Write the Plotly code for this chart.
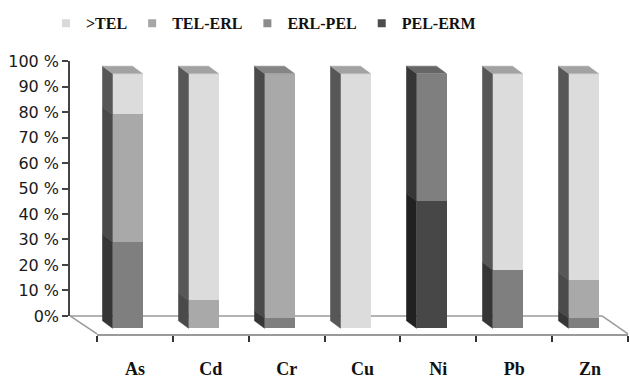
import plotly.graph_objects as go

# ---- data -------------------------------------------------------------
categories = ["As", "Cd", "Cr", "Cu", "Ni", "Pb", "Zn"]
series_names = [">TEL", "TEL-ERL", "ERL-PEL", "PEL-ERM"]
above_tel = [16, 89, 0, 100, 0, 77, 81]
tel_erl = [50, 11, 96, 0, 0, 0, 15]
erl_pel = [34, 0, 4, 0, 50, 23, 4]
pel_erm = [0, 0, 0, 0, 50, 0, 0]
y_tick_vals = [0, 10, 20, 30, 40, 50, 60, 70, 80, 90, 100]
y_tick_text = ["0%", "10 %", "20 %", "30 %", "40 %", "50 %",
               "60 %", "70 %", "80 %", "90 %", "100 %"]

# ---- styling ----------------------------------------------------------
W, H = 630, 381
SERIF = "Liberation Serif, Times New Roman, DejaVu Serif, serif"
front_col = {">TEL": "#dcdcdc", "TEL-ERL": "#a9a9a9",
             "ERL-PEL": "#7f7f7f", "PEL-ERM": "#474747"}
side_col = {">TEL": "#575757", "TEL-ERL": "#4a4a4a",
            "ERL-PEL": "#363636", "PEL-ERM": "#212121"}
cap_col = {">TEL": "#a2a2a2", "TEL-ERL": "#858585",
           "ERL-PEL": "#666666", "PEL-ERM": "#333333"}
legend_col = {">TEL": "#d9d9d9", "TEL-ERL": "#a6a6a6",
              "ERL-PEL": "#8c8c8c", "PEL-ERM": "#4d4d4d"}

# pixel geometry of the pseudo-3D scene
SLOT = 76.0            # px per category
X0 = 127.5             # px centre of first bar front face
PX_PER_PCT = 2.68      # px per percent
FRONT_ZERO = 336.0     # px of 0 % on bar front faces
WALL_ZERO = 323.0      # px of 0 % on the back wall axis
WALL_TOP = WALL_ZERO - 100 * PX_PER_PCT
WALL_X = 70.0
FLOOR_FRONT_Y = 342.0
FLOOR_FRONT_X0 = 97.0
FLOOR_FRONT_X1 = 628.0
FLOOR_BACK_X1 = 602.0
BAR_W = 30.0 / SLOT    # bar width in category units
DX = -10.0 / SLOT      # depth offset (category units)
DV = 7.8 / PX_PER_PCT  # depth offset (percent units)

x_rng = [-X0 / SLOT, (W - X0) / SLOT]
y_rng = [(FRONT_ZERO - H) / PX_PER_PCT, FRONT_ZERO / PX_PER_PCT]

stack = [("PEL-ERM", pel_erm), ("ERL-PEL", erl_pel),
         ("TEL-ERL", tel_erl), (">TEL", above_tel)]
xs = list(range(len(categories)))

fig = go.Figure()

# front faces of the stacked columns
for name, vals in stack:
    fig.add_trace(go.Bar(
        x=xs, y=vals, width=BAR_W, name=name, showlegend=False,
        marker=dict(color=front_col[name], line=dict(width=0)),
        hoverinfo="skip"))

# left side faces, one polygon per segment
base = [0.0] * len(categories)
top_series = [None] * len(categories)
for name, vals in stack:
    px, py = [], []
    for i, v in enumerate(vals):
        if v <= 0:
            continue
        b, t = base[i], base[i] + v
        xl = i - BAR_W / 2
        px += [xl, xl, xl + DX, xl + DX, xl, None]
        py += [b, t, t + DV, b + DV, b, None]
        base[i] = t
        top_series[i] = name
    if px:
        fig.add_trace(go.Scatter(
            x=px, y=py, mode="lines", fill="toself",
            fillcolor=side_col[name],
            line=dict(color=side_col[name], width=0.6),
            showlegend=False, hoverinfo="skip"))

# top caps, coloured like the uppermost segment
for name in series_names:
    px, py = [], []
    for i, s in enumerate(top_series):
        if s != name:
            continue
        t = base[i]
        xl, xr = i - BAR_W / 2, i + BAR_W / 2
        px += [xl, xr, xr + DX, xl + DX, xl, None]
        py += [t, t, t + DV, t + DV, t, None]
    if px:
        fig.add_trace(go.Scatter(
            x=px, y=py, mode="lines", fill="toself",
            fillcolor=cap_col[name],
            line=dict(color=cap_col[name], width=0.6),
            showlegend=False, hoverinfo="skip"))

# legend entries
for name in series_names:
    fig.add_trace(go.Scatter(
        x=[None], y=[None], mode="markers", name="<b>%s</b>" % name,
        marker=dict(symbol="square", size=8, color=legend_col[name])))

# helper trace for the wall axis
fig.add_trace(go.Scatter(x=[0], y=[0], xaxis="x2", yaxis="y2",
                         mode="markers", marker=dict(opacity=0),
                         showlegend=False, hoverinfo="skip"))
# helper trace for the category axis along the floor front edge
fig.add_trace(go.Scatter(x=categories, y=[0] * len(categories),
                         xaxis="x3", yaxis="y3", mode="markers",
                         marker=dict(opacity=0), showlegend=False,
                         hoverinfo="skip"))


def pxp(x):
    return x / W


def pyp(y):
    return 1 - y / H


# floor outline (behind the columns)
floor_col = "#9a9a9a"
shapes = [
    dict(type="line", xref="paper", yref="paper", layer="below",
         x0=pxp(WALL_X), y0=pyp(WALL_ZERO),
         x1=pxp(FLOOR_BACK_X1), y1=pyp(WALL_ZERO),
         line=dict(color=floor_col, width=1.5)),
    dict(type="line", xref="paper", yref="paper", layer="below",
         x0=pxp(WALL_X), y0=pyp(WALL_ZERO),
         x1=pxp(FLOOR_FRONT_X0), y1=pyp(FLOOR_FRONT_Y),
         line=dict(color=floor_col, width=1.5)),
    dict(type="line", xref="paper", yref="paper", layer="below",
         x0=pxp(FLOOR_BACK_X1), y0=pyp(WALL_ZERO),
         x1=pxp(FLOOR_FRONT_X1), y1=pyp(FLOOR_FRONT_Y),
         line=dict(color=floor_col, width=1.5)),
]

fig.update_layout(
    width=W, height=H,
    margin=dict(l=0, r=0, t=0, b=0),
    paper_bgcolor="white", plot_bgcolor="rgba(0,0,0,0)",
    barmode="stack", bargap=0,
    showlegend=True,
    shapes=shapes,
    legend=dict(orientation="h", traceorder="normal",
                x=46 / W, xanchor="left",
                y=pyp(15), yanchor="middle",
                font=dict(family=SERIF, size=16, color="#111111"),
                itemwidth=30, bgcolor="rgba(0,0,0,0)"),
    xaxis=dict(domain=[0, 1], range=x_rng, visible=False,
               fixedrange=True),
    yaxis=dict(domain=[0, 1], range=y_rng, visible=False,
               fixedrange=True),
    xaxis2=dict(domain=[WALL_X / W, 1], anchor="y2", visible=False,
                range=[0, 1], fixedrange=True),
    yaxis2=dict(domain=[pyp(WALL_ZERO), pyp(WALL_TOP)], anchor="x2",
                range=[0, 100], tickvals=y_tick_vals,
                ticktext=y_tick_text, showline=True, linecolor="#444444",
                linewidth=1.5, ticks="outside", ticklen=6,
                tickcolor="#444444", tickwidth=1.5, showgrid=False,
                zeroline=False, fixedrange=True,
                tickfont=dict(family="DejaVu Sans", size=16,
                              color="#1a1a1a")),
    xaxis3=dict(domain=[FLOOR_FRONT_X0 / W, FLOOR_FRONT_X1 / W],
                anchor="y3", type="category",
                categoryorder="array", categoryarray=categories,
                range=[-0.5, len(categories) - 0.5],
                tickson="boundaries", ticks="outside", ticklen=6,
                tickcolor="#333333", tickwidth=1.5,
                showline=True, linecolor=floor_col, linewidth=1.5,
                showgrid=False, fixedrange=True,
                ticklabelstandoff=18,
                tickvals=categories,
                ticktext=["<b>%s</b>" % c for c in categories],
                tickfont=dict(family=SERIF, size=18, color="#111111")),
    yaxis3=dict(domain=[pyp(FLOOR_FRONT_Y), pyp(FLOOR_FRONT_Y) + 0.05],
                anchor="x3", visible=False, range=[0, 1],
                fixedrange=True),
)

fig.write_html("out.html")
